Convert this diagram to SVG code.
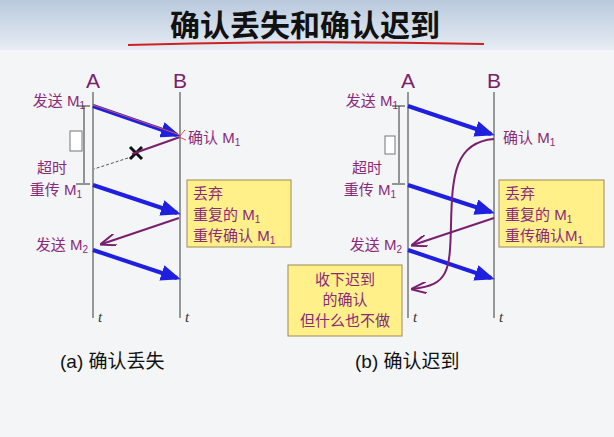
<svg xmlns="http://www.w3.org/2000/svg" width="614" height="437" viewBox="0 0 614 437">
<defs>
<linearGradient id="tb" x1="0" y1="0" x2="0" y2="1"><stop offset="0" stop-color="#b9c9dc"/><stop offset="1" stop-color="#e6edf4"/></linearGradient>
<marker id="bh" markerWidth="5" markerHeight="4" refX="4" refY="2" orient="auto" markerUnits="strokeWidth"><path d="M0,0 L5,2 L0,4 Z" fill="#1f1fe0"/></marker>
<marker id="ph" markerWidth="8" markerHeight="6" refX="7" refY="3" orient="auto" markerUnits="strokeWidth"><path d="M0,0 L8,3 L0,6" fill="none" stroke="#7a1f6e" stroke-width="1"/></marker>
</defs>
<style>
.t{font-family:"Liberation Sans","Noto Sans CJK SC",sans-serif;fill:#8b2a7a;font-size:15px}
.h{font-family:"Liberation Sans",sans-serif;fill:#7a1f6e;font-size:21px}
.c{font-family:"Liberation Sans","Noto Sans CJK SC",sans-serif;fill:#111;font-size:19px}
.k{font-family:"Liberation Serif",serif;font-style:italic;fill:#333;font-size:15px}
.life{stroke:#777;stroke-width:1.5}
.blue{stroke:#1f1fe0;stroke-width:4;marker-end:url(#bh)}
.pur{stroke:#7a1f6e;stroke-width:2;fill:none;marker-end:url(#ph)}
.box{fill:#fff08a;stroke:#a08a55;stroke-width:1}
.br{stroke:#333;stroke-width:1}
</style>
<rect width="614" height="437" fill="#f3f5f7"/>
<rect width="614" height="50" fill="url(#tb)"/>
<text x="305" y="36" text-anchor="middle" font-family="Liberation Sans,Noto Sans CJK SC,sans-serif" font-size="30" font-weight="bold" fill="#111">确认丢失和确认迟到</text>
<path d="M128,45 Q300,40 484,44" stroke="#d02020" stroke-width="2" fill="none"/>
<g id="left">
<text class="h" x="93" y="88" text-anchor="middle">A</text>
<text class="h" x="180" y="88" text-anchor="middle">B</text>
<line class="life" x1="93" y1="92" x2="93" y2="318"/>
<line class="life" x1="180" y1="92" x2="180" y2="318"/>
<text class="k" x="98" y="322">t</text><text class="k" x="185" y="322">t</text>
<text class="t" x="85" y="106" text-anchor="end">发送 M<tspan font-size="10" dy="3">1</tspan></text>
<line class="br" x1="76" y1="106" x2="90" y2="106"/><line class="br" x1="76" y1="184" x2="90" y2="184"/>
<line class="br" x1="84" y1="106" x2="84" y2="183"/>
<rect x="70" y="131" width="12" height="20" fill="#fff" stroke="#777"/>
<text class="t" x="37" y="173">超时</text>
<text class="t" x="82" y="195" text-anchor="end">重传 M<tspan font-size="10" dy="3">1</tspan></text>
<text class="t" x="188" y="143">确认 M<tspan font-size="10" dy="3">1</tspan></text>
<text class="t" x="88" y="250" text-anchor="end">发送 M<tspan font-size="10" dy="3">2</tspan></text>
<rect class="box" x="187" y="180" width="104" height="67"/>
<text class="t" x="193" y="199">丢弃</text>
<text class="t" x="193" y="220">重复的 M<tspan font-size="10" dy="3">1</tspan></text>
<text class="t" x="193" y="241">重传确认 M<tspan font-size="10" dy="3">1</tspan></text>
<path d="M130,147 L142,159 M142,147 L130,159" stroke="#111" stroke-width="3"/>
</g>
<g id="right">
<text class="h" x="408" y="88" text-anchor="middle">A</text>
<text class="h" x="494" y="88" text-anchor="middle">B</text>
<line class="life" x1="408" y1="92" x2="408" y2="318"/>
<line class="life" x1="494" y1="92" x2="494" y2="318"/>
<text class="k" x="413" y="322">t</text><text class="k" x="499" y="322">t</text>
<text class="t" x="398" y="106" text-anchor="end">发送 M<tspan font-size="10" dy="3">1</tspan></text>
<line class="br" x1="392" y1="106" x2="405" y2="106"/><line class="br" x1="392" y1="184" x2="405" y2="184"/>
<line class="br" x1="399" y1="106" x2="399" y2="183"/>
<rect x="385" y="136" width="10" height="18" fill="#fff" stroke="#777"/>
<text class="t" x="352" y="173">超时</text>
<text class="t" x="396" y="195" text-anchor="end">重传 M<tspan font-size="10" dy="3">1</tspan></text>
<text class="t" x="503" y="143">确认 M<tspan font-size="10" dy="3">1</tspan></text>
<text class="t" x="402" y="250" text-anchor="end">发送 M<tspan font-size="10" dy="3">2</tspan></text>
<rect class="box" x="499" y="180" width="105" height="67"/>
<text class="t" x="505" y="199">丢弃</text>
<text class="t" x="505" y="220">重复的 M<tspan font-size="10" dy="3">1</tspan></text>
<text class="t" x="505" y="241">重传确认M<tspan font-size="10" dy="3">1</tspan></text>
<rect class="box" x="288" y="265" width="114" height="71"/>
<text class="t" x="345" y="285" text-anchor="middle" fill="#5a1f55">收下迟到</text>
<text class="t" x="345" y="305" text-anchor="middle">的确认</text>
<text class="t" x="345" y="326" text-anchor="middle">但什么也不做</text>
</g>
<g id="connectors">
<line class="blue" x1="93" y1="106" x2="177" y2="135"/>
<path d="M93,105 L180,135" stroke="#e05050" stroke-width="1" fill="none"/>
<path d="M180,137 L132,154" stroke="#7a1f6e" stroke-width="2" fill="none"/>
<path d="M185,130 L179,137 L186,140" stroke="#e05050" stroke-width="1" fill="none"/>
<line x1="128" y1="158" x2="94" y2="169" stroke="#555" stroke-dasharray="3,2"/>
<line class="blue" x1="93" y1="185" x2="177" y2="213"/>
<line class="pur" x1="179" y1="218" x2="102" y2="244"/>
<line class="blue" x1="93" y1="250" x2="177" y2="278"/>
<line class="blue" x1="408" y1="106" x2="491" y2="134"/>
<line class="blue" x1="408" y1="185" x2="491" y2="212"/>
<line class="pur" x1="494" y1="218" x2="413" y2="245"/>
<line class="blue" x1="408" y1="250" x2="491" y2="278"/>
<path class="pur" d="M494,139 C455,142 452,175 451,225 C450,272 448,285 413,289"/>
</g>
<text class="c" x="60" y="368">(a) 确认丢失</text>
<text class="c" x="355" y="368">(b) 确认迟到</text>
</svg>
